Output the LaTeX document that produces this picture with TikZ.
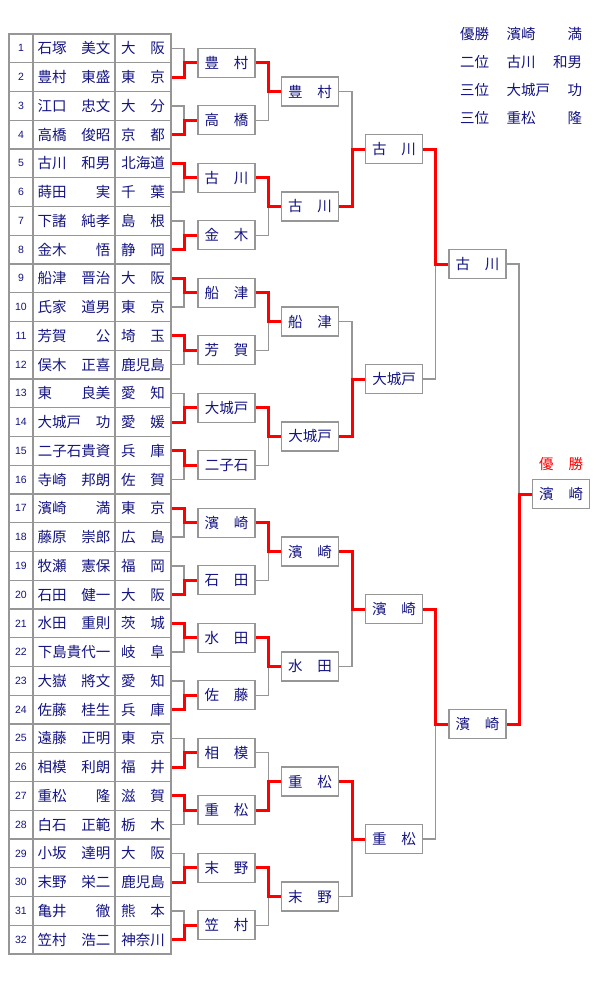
\documentclass[tikz,border=0pt]{standalone}
\usepackage{fontspec}
\newfontfamily\jp{Noto Sans CJK JP}
\newfontfamily\numfont{Liberation Sans}
\definecolor{ink}{RGB}{20,20,130}
\definecolor{lgray}{RGB}{150,150,150}
\definecolor{wred}{RGB}{255,0,0}
\newcommand\jthree[1]{\makebox[44pt]{#1}}
\newcommand\jfive[1]{\makebox[73pt]{#1}}
\newcommand\bout[4]{%
  \draw[lose] (#2.east) -| (#3.west -| #4);
  \draw[win] (#1.east) -| (#3.west -| #4) -- (#3.west);}
\begin{document}
\begin{tikzpicture}[x=1pt,y=-1pt,
  jpf/.style={font=\jp\fontsize{14.5}{16}\selectfont},
  cell/.style={draw=lgray,line width=1.2pt,inner sep=0pt,minimum height=28.75pt,text=ink},
  rbox/.style={draw=lgray,line width=1.3pt,fill=white,inner sep=0pt,minimum width=57pt,minimum height=29pt,text=ink,jpf},
  lose/.style={draw=lgray,line width=1.3pt},
  win/.style={draw=wred,line width=3pt},
  legend/.style={jpf,text=ink,inner sep=0pt,anchor=west}]
\useasboundingbox (0,0) rectangle (600,990);
% table
\foreach \i/\sn/\pf in {
 1/石塚\hfill 美文/大\hfill 阪,
 2/豊村\hfill 東盛/東\hfill 京,
 3/江口\hfill 忠文/大\hfill 分,
 4/高橋\hfill 俊昭/京\hfill 都,
 5/古川\hfill 和男/北海道,
 6/蒔田\hfill 実/千\hfill 葉,
 7/下諸\hfill 純孝/島\hfill 根,
 8/金木\hfill 悟/静\hfill 岡,
 9/船津\hfill 晋治/大\hfill 阪,
 10/氏家\hfill 道男/東\hfill 京,
 11/芳賀\hfill 公/埼\hfill 玉,
 12/俣木\hfill 正喜/鹿児島,
 13/東\hfill 良美/愛\hfill 知,
 14/大城戸\hfill 功/愛\hfill 媛,
 15/二子石貴資/兵\hfill 庫,
 16/寺崎\hfill 邦朗/佐\hfill 賀,
 17/濱崎\hfill 満/東\hfill 京,
 18/藤原\hfill 崇郎/広\hfill 島,
 19/牧瀬\hfill 憲保/福\hfill 岡,
 20/石田\hfill 健一/大\hfill 阪,
 21/水田\hfill 重則/茨\hfill 城,
 22/下島貴代一/岐\hfill 阜,
 23/大嶽\hfill 將文/愛\hfill 知,
 24/佐藤\hfill 桂生/兵\hfill 庫,
 25/遠藤\hfill 正明/東\hfill 京,
 26/相模\hfill 利朗/福\hfill 井,
 27/重松\hfill 隆/滋\hfill 賀,
 28/白石\hfill 正範/栃\hfill 木,
 29/小坂\hfill 達明/大\hfill 阪,
 30/末野\hfill 栄二/鹿児島,
 31/亀井\hfill 徹/熊\hfill 本,
 32/笠村\hfill 浩二/神奈川}{
  \pgfmathsetmacro\yc{34+(\i-0.5)*28.75}
  \node[cell,minimum width=24pt,font=\numfont\fontsize{10.5}{12}\selectfont] (n\i) at (21,\yc) {\i};
  \node[cell,minimum width=82pt,jpf] (p\i) at (74,\yc) {\jfive{\sn}};
  \node[cell,minimum width=56pt,jpf] (f\i) at (143,\yc) {\jthree{\pf}};
}
% round 1
\foreach \j/\t in {1/豊\hfill 村,2/高\hfill 橋,3/古\hfill 川,4/金\hfill 木,5/船\hfill 津,6/芳\hfill 賀,7/大城戸,8/二子石,
  9/濱\hfill 崎,10/石\hfill 田,11/水\hfill 田,12/佐\hfill 藤,13/相\hfill 模,14/重\hfill 松,15/末\hfill 野,16/笠\hfill 村}{
  \pgfmathsetmacro\yc{34+(2*\j-1)*28.75}
  \node[rbox] (a\j) at (226.5,\yc) {\jthree{\t}};
}
% round 2
\foreach \j/\t in {1/豊\hfill 村,2/古\hfill 川,3/船\hfill 津,4/大城戸,5/濱\hfill 崎,6/水\hfill 田,7/重\hfill 松,8/末\hfill 野}{
  \pgfmathsetmacro\yc{34+(4*\j-2)*28.75}
  \node[rbox] (b\j) at (310,\yc) {\jthree{\t}};
}
% round 3
\foreach \j/\t in {1/古\hfill 川,2/大城戸,3/濱\hfill 崎,4/重\hfill 松}{
  \pgfmathsetmacro\yc{34+(8*\j-4)*28.75}
  \node[rbox] (c\j) at (394,\yc) {\jthree{\t}};
}
% round 4
\foreach \j/\t in {1/古\hfill 川,2/濱\hfill 崎}{
  \pgfmathsetmacro\yc{34+(16*\j-8)*28.75}
  \node[rbox] (d\j) at (477.5,\yc) {\jthree{\t}};
}
% final
\node[rbox] (e) at (561,494) {\jthree{濱\hfill 崎}};
\node[jpf,text=wred,inner sep=0pt] (champ) at (561,464) {\jthree{優\hfill 勝}};
% join columns
\coordinate (j1) at (184,0);
\coordinate (j2) at (268.3,0);
\coordinate (j3) at (352,0);
\coordinate (j4) at (435.7,0);
\coordinate (j5) at (519,0);
% round 1 bouts
\bout{f2}{f1}{a1}{j1}
\bout{f4}{f3}{a2}{j1}
\bout{f5}{f6}{a3}{j1}
\bout{f8}{f7}{a4}{j1}
\bout{f9}{f10}{a5}{j1}
\bout{f11}{f12}{a6}{j1}
\bout{f14}{f13}{a7}{j1}
\bout{f15}{f16}{a8}{j1}
\bout{f17}{f18}{a9}{j1}
\bout{f20}{f19}{a10}{j1}
\bout{f21}{f22}{a11}{j1}
\bout{f24}{f23}{a12}{j1}
\bout{f26}{f25}{a13}{j1}
\bout{f27}{f28}{a14}{j1}
\bout{f30}{f29}{a15}{j1}
\bout{f32}{f31}{a16}{j1}
% round 2 bouts
\bout{a1}{a2}{b1}{j2}
\bout{a3}{a4}{b2}{j2}
\bout{a5}{a6}{b3}{j2}
\bout{a7}{a8}{b4}{j2}
\bout{a9}{a10}{b5}{j2}
\bout{a11}{a12}{b6}{j2}
\bout{a14}{a13}{b7}{j2}
\bout{a15}{a16}{b8}{j2}
% round 3 bouts
\bout{b2}{b1}{c1}{j3}
\bout{b4}{b3}{c2}{j3}
\bout{b5}{b6}{c3}{j3}
\bout{b7}{b8}{c4}{j3}
% round 4 bouts
\bout{c1}{c2}{d1}{j4}
\bout{c3}{c4}{d2}{j4}
% final bout
\bout{d2}{d1}{e}{j5}
% legend
\node[legend] (l1a) at (460,34) {優勝};
\node[legend] (l1b) at (506.5,34) {\makebox[75.5pt]{濱崎\hfill 満}};
\node[legend] (l2a) at (460,62) {二位};
\node[legend] (l2b) at (506.5,62) {\makebox[75.5pt]{古川\hfill 和男}};
\node[legend] (l3a) at (460,90) {三位};
\node[legend] (l3b) at (506.5,90) {\makebox[75.5pt]{大城戸\hfill 功}};
\node[legend] (l4a) at (460,118) {三位};
\node[legend] (l4b) at (506.5,118) {\makebox[75.5pt]{重松\hfill 隆}};
\end{tikzpicture}
\end{document}
